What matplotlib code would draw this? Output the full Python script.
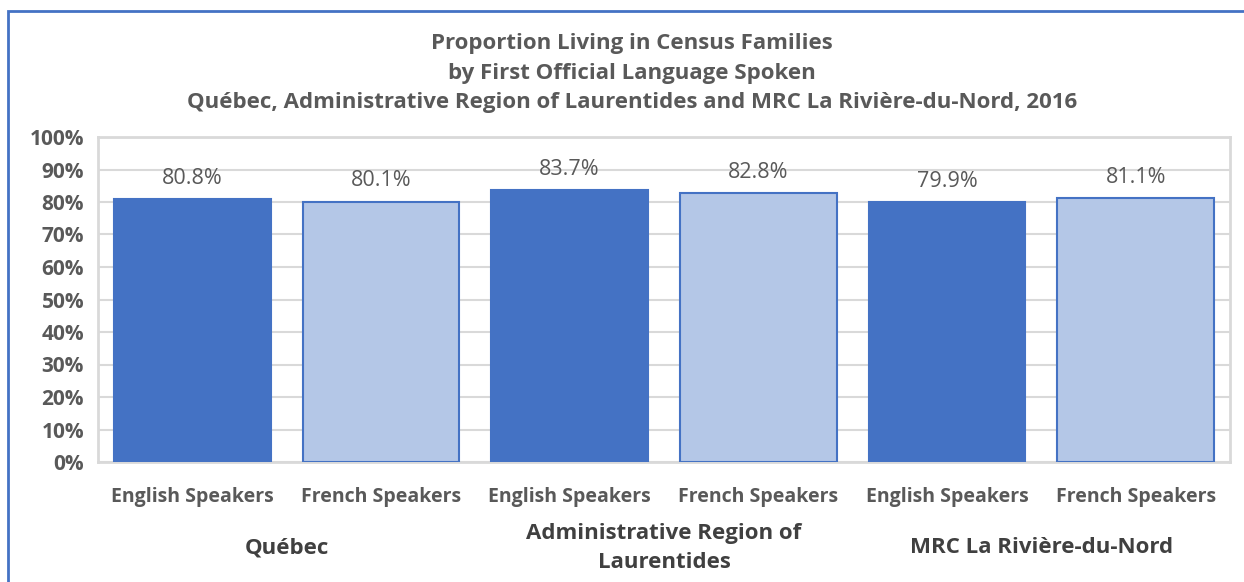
import numpy as np
import matplotlib.pyplot as plt
from matplotlib.patches import Rectangle
from matplotlib.transforms import blended_transform_factory

# chart data
groups = ["Québec", "Administrative Region of\nLaurentides", "MRC La Rivière-du-Nord"]
speakers = ["English Speakers", "French Speakers"]
english = [80.8, 83.7, 79.9]
french = [80.1, 82.8, 81.1]

values = []
for e, f in zip(english, french):
    values += [e, f]
labels = speakers * len(groups)

dark_blue = "#4472C4"
light_blue = "#B4C7E7"
grey_txt = "#595959"
font = "Open Sans"

fig = plt.figure(figsize=(12.44, 5.82), dpi=100)
ax = fig.add_axes([98/1244, 1-462/582, (1230-98)/1244, (462-137)/582])

x = np.arange(len(values))
fills = [dark_blue if i % 2 == 0 else light_blue for i in range(len(values))]
bars = ax.bar(x, [v/100 for v in values], width=0.83, color=fills,
              edgecolor=dark_blue, linewidth=1.5, zorder=3)

for b, v in zip(bars, values):
    ax.annotate(f"{v:.1f}%", (b.get_x() + b.get_width()/2, b.get_height()),
                xytext=(0, 15), textcoords="offset points", ha="center", va="center",
                fontsize=15.5, color=grey_txt, family=font, zorder=4)

ax.set_xlim(-0.5, len(values) - 0.5)
ax.set_ylim(0, 1)
ax.set_yticks(np.arange(0, 1.01, 0.1))
ax.set_yticklabels([f"{int(round(t*100))}%" for t in np.arange(0, 1.01, 0.1)],
                   fontsize=15, fontweight="bold", color=grey_txt, family=font)
ax.set_xticks(x)
ax.set_xticklabels(labels, fontsize=14, fontweight="bold", color=grey_txt, family=font)
ax.tick_params(axis="both", length=0)
ax.tick_params(axis="x", pad=18)
ax.tick_params(axis="y", pad=10)
ax.grid(axis="y", color="#D9D9D9", linewidth=1.5, zorder=0)
for s in ax.spines.values():
    s.set_color("#D9D9D9")
    s.set_linewidth(2)

# group labels under the speaker labels
trans = blended_transform_factory(ax.transData, ax.transAxes)
for i, g in enumerate(groups):
    ax.text(2*i + 0.5, -0.264, g, transform=trans, ha="center", va="center",
            fontsize=16, fontweight="bold", color="#404040", family=font,
            linespacing=1.5)

fig.text(632/1244, 1-73/582,
         "Proportion Living in Census Families\nby First Official Language Spoken\n"
         "Québec, Administrative Region of Laurentides and MRC La Rivière-du-Nord, 2016",
         ha="center", va="center", fontsize=16, fontweight="bold", color=grey_txt,
         family=font, linespacing=1.55)

# outer chart border (left and top visible)
fig.patches.append(Rectangle((8/1244, -0.1), 1.2, 1 - 11/582 + 0.1, transform=fig.transFigure,
                             fill=False, edgecolor=dark_blue, linewidth=2, zorder=10))

fig.savefig("out.png", dpi=100)
